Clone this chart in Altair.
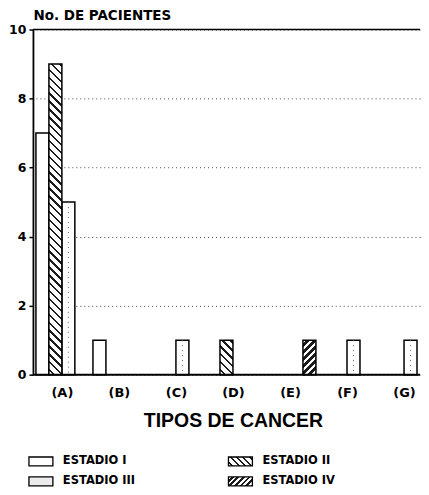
import math
import altair as alt
import pandas as pd

# ---------------- data ----------------
categories = ["(A)", "(B)", "(C)", "(D)", "(E)", "(F)", "(G)"]
stages = ["ESTADIO I", "ESTADIO II", "ESTADIO III", "ESTADIO IV"]
estadio_i = [7, 1, 0, 0, 0, 0, 0]
estadio_ii = [9, 0, 0, 1, 0, 0, 0]
estadio_iii = [5, 0, 1, 0, 0, 1, 1]
estadio_iv = [0, 0, 0, 0, 1, 0, 0]
y_ticks = [0, 2, 4, 6, 8, 10]

# ---------------- layout ----------------
W, H = 388, 346
Y_MAX = 10
BAR_W = 13.0
BOLD = "DejaVu Sans"

series = dict(zip(stages, [estadio_i, estadio_ii, estadio_iii, estadio_iv]))
rows = [
    {"tipo": c, "estadio": s, "n": v}
    for s in stages
    for c, v in zip(categories, series[s])
    if v > 0
]
df = pd.DataFrame(rows)


def hatch(w, h, period, thick, slope, ink="#1c1c1c", paper="#ffffff"):
    """Diagonal hatching as a linear gradient in the mark's bounding box."""
    r = h / w
    span = w + h
    lam = span / (w + h * h / w)
    if slope == "\\":
        x1, y1, x2, y2 = 0, 1, lam, 1 - lam * r
    else:
        x1, y1, x2, y2 = 0, 0, lam, lam * r
    ps = period * math.sqrt(2)
    ls = thick * math.sqrt(2)
    stops = [alt.GradientStop(offset=0, color=paper)]
    s = ps * 0.5
    while s < span:
        a = min(s / span, 1.0)
        b = min((s + ls) / span, 1.0)
        c = min((s + ps) / span, 1.0)
        stops += [
            alt.GradientStop(offset=round(a, 5), color=paper),
            alt.GradientStop(offset=round(a, 5), color=ink),
            alt.GradientStop(offset=round(b, 5), color=ink),
            alt.GradientStop(offset=round(b, 5), color=paper),
            alt.GradientStop(offset=round(c, 5), color=paper),
        ]
        s += ps
    return alt.LinearGradient(gradient="linear", stops=stops, x1=x1, y1=y1, x2=x2, y2=y2)


hatch_style = {"ESTADIO II": ("\\", 5.6, 1.7), "ESTADIO IV": ("/", 5.0, 2.6)}

# bars: band scale for the groups (no axis of its own)
x_enc = alt.X(
    "tipo:N",
    sort=categories,
    scale=alt.Scale(domain=categories, range=[3, 398], paddingInner=0.09, paddingOuter=0),
    axis=None,
)
# axis: point scale placed on the group centres
x_axis_enc = alt.X(
    "tipo:N",
    sort=categories,
    scale=alt.Scale(type="point", domain=categories, range=[29, 372], padding=0),
    axis=alt.Axis(
        orient="bottom", title="TIPOS DE CANCER", labelAngle=0, ticks=False, domain=False,
        labelPadding=11.5, grid=False,
        labelFont=BOLD, labelFontWeight="bold", labelFontSize=13, labelColor="black",
        titleFont="Liberation Sans", titleFontWeight="bold", titleFontSize=19.5,
        titleColor="black", titlePadding=12,
    ),
)
xo_enc = alt.XOffset("estadio:N", scale=alt.Scale(domain=stages, paddingInner=0, paddingOuter=0))
y_enc = alt.Y(
    "n:Q",
    scale=alt.Scale(domain=[0, Y_MAX], nice=False, zero=True),
    axis=alt.Axis(
        values=y_ticks, title="No. DE PACIENTES", titleAngle=0, titleAlign="left",
        titleX=0, titleY=-21, titleBaseline="top",
        titleFont=BOLD, titleFontWeight="bold", titleFontSize=13.5, titleColor="black",
        labelFont=BOLD, labelFontWeight="bold", labelFontSize=12.5, labelColor="black",
        labelPadding=3, tickSize=4, tickWidth=1.5, tickColor="black",
        domainWidth=1.8, domainColor="black",
        grid=True, gridDash=[1, 3], gridColor="#333333", gridWidth=1, gridOpacity=0.9,
    ),
)

frame_rules = alt.Chart(pd.DataFrame({"n": [0, Y_MAX], "w": [2.0, 1.5]})).mark_rule(
    color="black"
).encode(y=y_enc, strokeWidth=alt.StrokeWidth("w:Q", scale=None))

white_bars = alt.Chart(df).transform_filter(
    alt.FieldOneOfPredicate(field="estadio", oneOf=[stages[0], stages[2]])
).mark_bar(fill="white", stroke="black", strokeWidth=1.5).encode(x=x_enc, xOffset=xo_enc, y=y_enc)

dots = alt.Chart(df).transform_filter(
    alt.FieldEqualPredicate(field="estadio", equal=stages[2])
).mark_rule(color="#666666", strokeDash=[1, 4], strokeWidth=1).encode(
    x=x_enc, xOffset=xo_enc, y=y_enc, y2=alt.datum(0)
)

px_per_unit = H / Y_MAX
hatched_layers = []
for (stg, n), _ in df[df.estadio.isin(list(hatch_style))].groupby(["estadio", "n"]):
    slope, period, thick = hatch_style[stg]
    g = hatch(BAR_W, float(n) * px_per_unit, period, thick, slope)
    hatched_layers.append(
        alt.Chart(df).transform_filter(
            f"datum.estadio == '{stg}' && datum.n == {int(n)}"
        ).mark_bar(fill=g, stroke="black", strokeWidth=1.5).encode(x=x_enc, xOffset=xo_enc, y=y_enc)
    )

bars = alt.layer(white_bars, dots, *hatched_layers, frame_rules)
axis_layer = alt.Chart(pd.DataFrame({"tipo": categories})).mark_point(opacity=0).encode(
    x=x_axis_enc, y=alt.datum(0, type="quantitative")
)
top = alt.layer(bars, axis_layer).resolve_scale(x="independent").properties(width=W, height=H)

# ---------------- legend ----------------
leg_df = pd.DataFrame({
    "estadio": stages,
    "col": [i % 2 for i in range(len(stages))],
    "row": [i // 2 for i in range(len(stages))],
})
SYM_W, SYM_H = 24.0, 9.0
lx = alt.X("col:O", scale=alt.Scale(type="point", domain=[0, 1], range=[8, 208], padding=0), axis=None)
ly = alt.Y("row:O", scale=alt.Scale(type="point", domain=[0, 1], range=[22, 42], padding=0), axis=None)
sym_path = "M-1,-0.375H1V0.375H-1Z"
sym_fill = {
    "ESTADIO I": "#ffffff",
    "ESTADIO II": hatch(SYM_W, SYM_H, 4.5, 1.5, "\\"),
    "ESTADIO III": "#ececec",
    "ESTADIO IV": hatch(SYM_W, SYM_H, 4.0, 2.0, "/"),
}
sym_layers = []
for s in stages:
    sym_layers.append(
        alt.Chart(leg_df).transform_filter(alt.FieldEqualPredicate(field="estadio", equal=s)).mark_point(
            shape=sym_path, size=SYM_W * SYM_W, filled=True, fill=sym_fill[s],
            stroke="black", strokeWidth=1.3, opacity=1, fillOpacity=1, strokeOpacity=1,
        ).encode(x=lx, y=ly)
    )
leg_text = alt.Chart(leg_df).mark_text(
    align="left", baseline="middle", dx=22, font=BOLD, fontWeight="bold", fontSize=11.5, color="black"
).encode(x=lx, y=ly, text="estadio:N")
legend = alt.layer(*sym_layers, leg_text).properties(width=W, height=46)

chart = alt.vconcat(top, legend, spacing=10).properties(
    background="white", padding={"left": 0, "top": 0, "right": 0, "bottom": 0}
).configure_view(stroke=None)

chart.save("out.html", embed_options={"renderer": "svg", "actions": False})
